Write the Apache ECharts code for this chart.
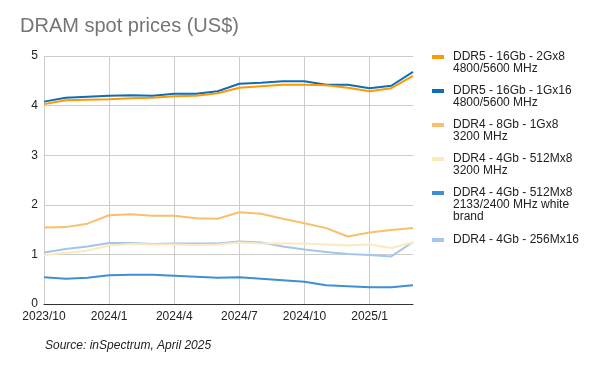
<!DOCTYPE html>
<html>
<head>
<meta charset="utf-8">
<script src="https://cdn.jsdelivr.net/npm/echarts@6/dist/echarts.min.js"></script>
<style>html,body{margin:0;padding:0;background:#fff}#c{width:600px;height:371px}</style>
</head>
<body>
<div id="c"></div>
<script>
var months = ['2023/10','2023/11','2023/12','2024/1','2024/2','2024/3','2024/4','2024/5','2024/6','2024/7','2024/8','2024/9','2024/10','2024/11','2024/12','2025/1','2025/2','2025/3'];
var ddr5_2Gx8 = [4.03,4.11,4.12,4.13,4.15,4.16,4.19,4.20,4.25,4.36,4.39,4.42,4.42,4.41,4.36,4.29,4.35,4.60];
var ddr5_1Gx16 = [4.08,4.16,4.18,4.20,4.21,4.20,4.24,4.24,4.29,4.44,4.46,4.49,4.49,4.42,4.42,4.35,4.40,4.68];
var ddr4_8Gb = [1.54,1.55,1.62,1.79,1.81,1.78,1.78,1.73,1.72,1.85,1.82,1.72,1.63,1.53,1.36,1.44,1.49,1.53];
var ddr4_4Gb_3200 = [0.99,1.03,1.08,1.18,1.21,1.20,1.20,1.19,1.20,1.24,1.22,1.22,1.22,1.20,1.18,1.20,1.13,1.24];
var ddr4_4Gb_white = [0.54,0.51,0.53,0.58,0.59,0.59,0.57,0.55,0.53,0.54,0.51,0.48,0.45,0.38,0.36,0.34,0.34,0.38];
var ddr4_256Mx16 = [1.04,1.11,1.16,1.23,1.23,1.21,1.22,1.22,1.22,1.26,1.24,1.16,1.10,1.05,1.01,0.99,0.96,1.25];

var names = [
  'DDR5 - 16Gb - 2Gx8\n4800/5600 MHz',
  'DDR5 - 16Gb - 1Gx16\n4800/5600 MHz',
  'DDR4 - 8Gb - 1Gx8\n3200 MHz',
  'DDR4 - 4Gb - 512Mx8\n3200 MHz',
  'DDR4 - 4Gb - 512Mx8\n2133/2400 MHz white\nbrand',
  'DDR4 - 4Gb - 256Mx16'
];
var values = [ddr5_2Gx8, ddr5_1Gx16, ddr4_8Gb, ddr4_4Gb_3200, ddr4_4Gb_white, ddr4_256Mx16];
var colors = ['#ff9900','#0f6db7','#f8bf6c','#fee8bd','#3f8fd2','#a4c6ea'];

var FONT = 'Liberation Sans, Arial, sans-serif';
var legendTops = [51, 85, 119, 153, 187, 234];

var legends = names.map(function (n, i) {
  var lines = n.split('\n').length;
  var h = lines * 12;
  return {
    show: true,
    orient: 'vertical',
    left: 432,
    top: legendTops[i],
    padding: 0,
    itemWidth: 16,
    itemHeight: h,
    itemGap: 0,
    icon: 'path://M0,0 M0,4h12v4h-12z M16,' + h,
    itemStyle: { borderWidth: 0 },
    textStyle: { fontFamily: FONT, fontSize: 12, color: '#222', lineHeight: 12, padding: [0, 0, 0, 0] },
    data: [n],
    selectedMode: false
  };
});

var series = names.map(function (n, i) {
  return {
    name: n,
    type: 'line',
    data: values[i],
    symbol: 'none',
    showSymbol: false,
    lineStyle: { width: 2, color: colors[i] },
    itemStyle: { color: colors[i], borderWidth: 0 },
    emphasis: { disabled: true },
    z: 10 - i
  };
});

var chart = echarts.init(document.getElementById('c'), null, { renderer: 'canvas' });
chart.setOption({
  animation: false,
  backgroundColor: '#fff',
  title: [
    { text: 'DRAM spot prices (US$)', left: 20, top: 16, padding: 0,
      textStyle: { fontFamily: FONT, fontSize: 20, fontWeight: 'normal', color: '#757575' } },
    { text: 'Source: inSpectrum, April 2025', left: 45, top: 340, padding: 0,
      textStyle: { fontFamily: FONT, fontSize: 12, fontWeight: 'normal', fontStyle: 'italic', color: '#222' } }
  ],
  legend: legends,
  grid: { left: 44, right: 187, top: 56, bottom: 67, containLabel: false },
  xAxis: {
    type: 'category',
    data: months,
    boundaryGap: false,
    axisLine: { lineStyle: { color: '#333', width: 1 } },
    axisTick: { show: false },
    axisLabel: { interval: 2, fontFamily: FONT, fontSize: 12, color: '#222', margin: 7 },
    splitLine: { show: true, interval: 2, lineStyle: { color: '#cccccc', width: 1 } }
  },
  yAxis: {
    type: 'value',
    min: 0, max: 5, interval: 1,
    axisLine: { show: false },
    axisTick: { show: false },
    axisLabel: { fontFamily: FONT, fontSize: 12, color: '#222', margin: 6 },
    splitLine: { lineStyle: { color: '#cccccc', width: 1 } }
  },
  series: series
});
</script>
</body>
</html>
